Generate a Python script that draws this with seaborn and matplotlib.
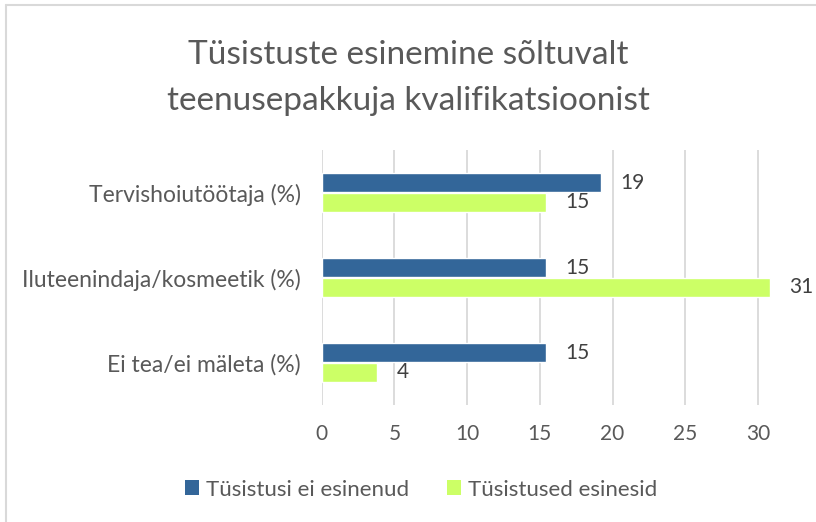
import pandas as pd
import matplotlib.pyplot as plt
import seaborn as sns
from matplotlib.lines import Line2D
from matplotlib.patches import Patch

# --------------------------------------------------------------
# Data (percent of respondents)
# --------------------------------------------------------------
categories = ["Tervishoiutöötaja (%)", "Iluteenindaja/kosmeetik (%)", "Ei tea/ei mäleta (%)"]
no_complications = [19.2, 15.4, 15.4]
complications = [15.4, 30.8, 3.8]
series_names = ["Tüsistusi ei esinenud", "Tüsistused esinesid"]
x_ticks = [0, 5, 10, 15, 20, 25, 30]

title = "Tüsistuste esinemine sõltuvalt\nteenusepakkuja kvalifikatsioonist"

colors = ["#336699", "#CCFF66"]
text_color = "#595959"

df = pd.DataFrame({
    "category": categories * 2,
    "series": [series_names[0]] * 3 + [series_names[1]] * 3,
    "value": no_complications + complications,
})

sns.set_style("white")
plt.rcParams["font.family"] = ["Lato", "DejaVu Sans"]

fig = plt.figure(figsize=(8.16, 5.22), dpi=100)
ax = fig.add_axes([321.7 / 816, (522 - 405) / 522, 509 / 816, 255 / 522])

sns.barplot(data=df, y="category", x="value", hue="series", order=categories,
            hue_order=series_names, palette=colors, width=0.47, orient="h",
            saturation=1, legend=False, ax=ax)

ax.set_xlim(0, 35)
ax.set_xticks(x_ticks + [35])
ax.set_xticklabels([str(t) for t in x_ticks] + [""])
ax.set_xlabel("")
ax.set_ylabel("")
ax.grid(axis="x", color="#D9D9D9", linewidth=1.3)
ax.set_axisbelow(True)
for s in ax.spines.values():
    s.set_visible(False)
ax.tick_params(axis="x", colors=text_color, labelsize=15, length=0, pad=14)
ax.tick_params(axis="y", colors=text_color, labelsize=16.5, length=0, pad=15)

# data labels, rounded like the original
for cont in ax.containers:
    ax.bar_label(cont, labels=[f"{v:.0f}" for v in cont.datavalues],
                 padding=14, fontsize=15, color="#404040")

fig.text(0.5, 0.85, title, ha="center", va="center", fontsize=24,
         color=text_color, linespacing=1.65)

handles = [Patch(facecolor=c, edgecolor="none") for c in colors]
fig.legend(handles, series_names, loc="center", bbox_to_anchor=(0.516, 0.062),
           ncol=2, frameon=False, fontsize=16, labelcolor=text_color,
           handlelength=0.65, handleheight=0.65, handletextpad=0.3, columnspacing=1.7)

# chart frame (only left and top edges visible in the crop)
fig.add_artist(Line2D([6 / 816, 6 / 816], [0, 1 - 5 / 522], color="#D9D9D9", linewidth=1.5))
fig.add_artist(Line2D([6 / 816, 1], [1 - 5 / 522, 1 - 5 / 522], color="#D9D9D9", linewidth=1.5))

fig.savefig("out.png", dpi=100)
